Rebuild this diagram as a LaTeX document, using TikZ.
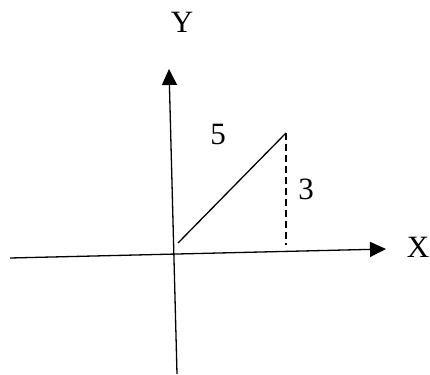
\documentclass[tikz,border=0pt]{standalone}
\usepackage{fontspec}
\setmainfont{Liberation Serif}
\usetikzlibrary{arrows.meta}

\begin{document}
\begin{tikzpicture}[
    x=1pt, y=-1pt,
    axis/.style={line width=1.3pt, -{Triangle[length=16pt, width=15pt]}},
    side/.style={line width=1.3pt},
    lbl/.style={font=\fontsize{31}{36}\selectfont, inner sep=0pt}
]
\useasboundingbox (0,0) rectangle (430,374);
% axes
\coordinate (ybot) at (177,374);
\coordinate (ytop) at (169,69);
\coordinate (xleft) at (10,258);
\coordinate (xright) at (386,249);
\draw[axis] (ybot) -- (ytop);
\draw[axis] (xleft) -- (xright);
\node[lbl] (ylab) at (182,22) {Y};
\node[lbl, anchor=east] (xlab) at (429.5,247) {X};
% triangle
\coordinate (start) at (178,243);
\coordinate (tip) at (286,133);
\coordinate (foot) at (286,245);
\draw[side] (start) -- (tip);
\draw[side, line width=1.8pt, dash pattern=on 7pt off 4pt] (tip) -- (foot);
\node[lbl] (hyp) at (218,135) {5};
\node[lbl] (opp) at (306,189) {3};
\end{tikzpicture}
\end{document}
